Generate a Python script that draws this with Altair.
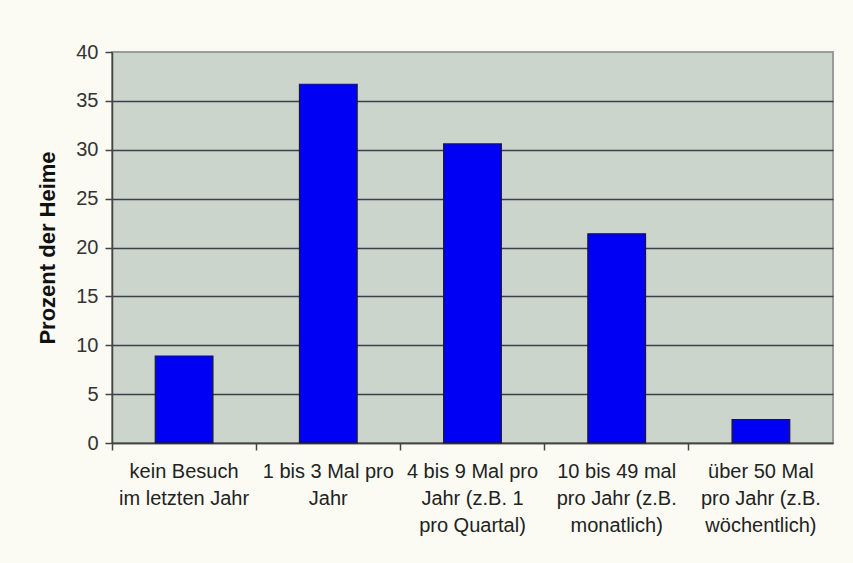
import altair as alt
import pandas as pd

# Besuchshäufigkeit (Kategorien, Zeilenumbrüche mit "\n")
categories = [
    "kein Besuch\nim letzten Jahr",
    "1 bis 3 Mal pro\nJahr",
    "4 bis 9 Mal pro\nJahr (z.B. 1\npro Quartal)",
    "10 bis 49 mal\npro Jahr (z.B.\nmonatlich)",
    "über 50 Mal\npro Jahr (z.B.\nwöchentlich)",
]
percent = [8.9, 36.7, 30.6, 21.4, 2.4]
y_ticks = [0, 5, 10, 15, 20, 25, 30, 35, 40]

df = pd.DataFrame({"kategorie": categories, "prozent": percent})

font = "Liberation Sans, Arial, sans-serif"

chart = (
    alt.Chart(df)
    .mark_bar(
        color="#0000F4",
        stroke="#1a1a2a",
        strokeWidth=1.2,
        width=alt.RelativeBandSize(0.4),
    )
    .encode(
        x=alt.X(
            "kategorie:N",
            sort=categories,
            scale=alt.Scale(paddingInner=0, paddingOuter=0),
            axis=alt.Axis(
                title=None,
                labelAngle=0,
                labelExpr="split(datum.value, '\\n')",
                labelFont=font,
                labelFontSize=20,
                labelColor="#222222",
                labelLineHeight=27,
                labelPadding=11,
                bandPosition=0,
                tickSize=7,
                tickColor="#444444",
                tickWidth=1.5,
                domainColor="#444444",
                domainWidth=1.5,
                grid=False,
            ),
        ),
        y=alt.Y(
            "prozent:Q",
            scale=alt.Scale(domain=[0, 40], nice=False),
            axis=alt.Axis(
                values=y_ticks,
                title="Prozent der Heime",
                titleFont=font,
                titleFontSize=22,
                titleFontWeight="bold",
                titleColor="#111111",
                titlePadding=16,
                labelFont=font,
                labelFontSize=20,
                labelColor="#333333",
                labelPadding=7,
                tickSize=7,
                tickColor="#444444",
                tickWidth=1.5,
                domainColor="#444444",
                domainWidth=1.5,
                grid=True,
                gridColor="#3e3e4a",
                gridWidth=1.5,
                gridOpacity={"condition": {"test": "datum.value === 40", "value": 0}, "value": 1},
            ),
        ),
    )
    .properties(
        width=721,
        height=391,
        autosize="none",
        padding={"left": 112, "top": 52, "right": 20, "bottom": 120},
        background="#FBFBF4",
    )
    .configure_view(fill="#CBD5CC", stroke="#9a9a9a", strokeWidth=2)
)

chart.save("out.html", embed_options={"renderer": "svg", "actions": False})
